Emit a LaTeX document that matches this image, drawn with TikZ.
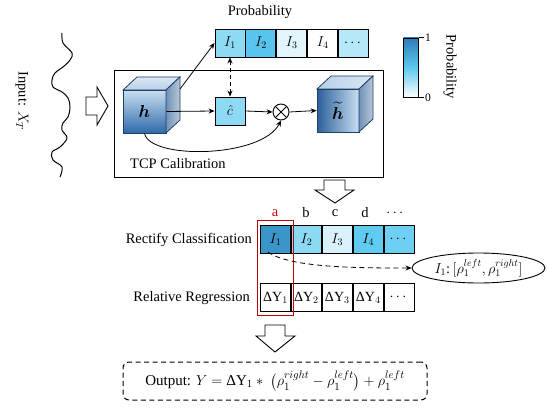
\documentclass[tikz,border=0pt]{standalone}
\usepackage{amsmath}
\usepackage{fontspec}
\setmainfont{Liberation Serif}
\usetikzlibrary{arrows.meta,shapes.geometric,calc}
\definecolor{pA}{HTML}{8EDAF5}
\definecolor{pB}{HTML}{58C5EE}
\definecolor{pC}{HTML}{E2F5FC}
\definecolor{pD}{HTML}{B5E8F9}
\definecolor{rA}{HTML}{3A95C9}
\definecolor{rB}{HTML}{8CD9F4}
\definecolor{rC}{HTML}{D8F1FB}
\definecolor{rD}{HTML}{5FCBF0}
\definecolor{rE}{HTML}{6DD0F3}
\definecolor{cubeD}{HTML}{2F6AAA}
\definecolor{cubeL}{HTML}{C9DEF2}
\definecolor{cubeT}{HTML}{D9E8F6}
\definecolor{cubeS}{HTML}{8BA3BE}
\definecolor{edge}{HTML}{1F3F66}
\definecolor{barD}{HTML}{2E7DB8}
\definecolor{barM}{HTML}{5CC8EF}
\newcommand{\dY}[1]{\text{ΔY}_{#1}}
\tikzset{
  txt/.style={font=\fontsize{14.5}{16}\selectfont, inner sep=1pt},
  cell/.style={draw, line width=0.9pt, minimum width=30pt, minimum height=28pt, inner sep=0pt, font=\fontsize{14}{16}\selectfont},
  arr/.style={-{Stealth[length=6pt,width=5pt]}, line width=0.8pt},
  hollow/.style={draw, line width=0.9pt, fill=white, line join=miter},
}
\begin{document}
\begin{tikzpicture}[x=1pt,y=-1pt]
\useasboundingbox (0,0) rectangle (548,409);

% input wave
\draw[line width=1pt, line join=round] plot[smooth, tension=0.6] coordinates {
 (62,33) (63,43) (72,53) (70,60) (63,67) (55,73) (52,80) (53,87) (62,92) (68,98)
 (70,107) (68,117) (63,123) (62,130) (67,138) (60,147) (52,152) (53,160) (62,167) (60,177)};
\node[txt, rotate=-90] (inp) at (22,101) {Input: $X_T$};

% hollow right arrow
\draw[hollow] (86,97) -- (97,97) -- (97,87) -- (108,106) -- (97,125) -- (97,115) -- (86,115) -- cycle;

% TCP box
\node[draw, line width=0.9pt, minimum width=269pt, minimum height=107pt, inner sep=0pt] (tcp) at (249,123.5) {};
\node[txt, anchor=west] (tcplab) at (129,164) {TCP Calibration};

% h cube
\node[draw=edge, line width=0.8pt, minimum width=43pt, minimum height=43pt, inner sep=0pt,
  top color=cubeL, bottom color=cubeD] (h) at (144.5,111.5) {\fontsize{17}{18}\selectfont$\boldsymbol{h}$};
\shade[draw=edge, line width=0.8pt, top color=cubeT, bottom color=cubeT!80!cubeD] (123,90) -- (137,77) -- (180,77) -- (166,90) -- cycle;
\shade[draw=edge, line width=0.8pt, left color=cubeS!70!cubeD, right color=cubeS!60!white] (166,90) -- (180,77) -- (180,120) -- (166,133) -- cycle;

% h tilde cube
\node[draw=edge, line width=0.8pt, minimum width=42pt, minimum height=43pt, inner sep=0pt,
  left color=cubeD!90!black, right color=cubeL] (ht) at (338,110.5) {\fontsize{17}{18}\selectfont$\widetilde{\boldsymbol{h}}$};
\shade[draw=edge, line width=0.8pt, left color=cubeT!80!cubeD, right color=cubeT] (317,89) -- (331,76) -- (373,76) -- (359,89) -- cycle;
\shade[draw=edge, line width=0.8pt, left color=cubeS!70!cubeD, right color=cubeS!60!white] (359,89) -- (373,76) -- (373,119) -- (359,132) -- cycle;
\coordinate (htop) at (180,89);

% c hat box and otimes
\node[draw, line width=0.9pt, fill=pA, minimum width=30pt, minimum height=28pt, inner sep=0pt, font=\fontsize{14}{16}\selectfont] (c) at (230,111) {$\hat{c}$};
\node[draw, circle, line width=0.9pt, minimum size=16pt, inner sep=0pt] (ot) at (281,112) {};
\draw[line width=0.9pt] ($(ot)+(-5.6,-5.6)$) -- ($(ot)+(5.6,5.6)$) ($(ot)+(-5.6,5.6)$) -- ($(ot)+(5.6,-5.6)$);

% probability bar
\node[cell, fill=pA] (p1) at (230,43) {$I_1$};
\node[cell, fill=pB, anchor=west] (p2) at (p1.east) {$I_2$};
\node[cell, fill=pC, anchor=west] (p3) at (p2.east) {$I_3$};
\node[cell, fill=white, anchor=west] (p4) at (p3.east) {$I_4$};
\node[cell, fill=pD, anchor=west] (p5) at (p4.east) {$\cdots$};
\node[txt] (plab) at (260,12) {Probability};

% arrows in TCP
\draw[arr] (htop) -- (p1.west);
\draw[arr] (h.east) -- (c.west);
\draw[arr] (c.east) -- (ot.west);
\draw[arr] (ot.east) -- (ht.west);
\draw[arr] (h.south) .. controls (150,160) and (262,158) .. (ot.south);
\draw[{Stealth[length=6pt,width=5pt]}-{Stealth[length=6pt,width=5pt]}, line width=0.8pt, dashed, dash pattern=on 4pt off 3pt] (p1.south) -- (c.north);

% colorbar
\node[draw, line width=0.9pt, minimum width=15pt, minimum height=59pt, inner sep=0pt,
  top color=barD, bottom color=white, middle color=barM] (cbar) at (411,67.5) {};
\draw[line width=0.9pt] (cbar.north east) -- ++(5,0) coordinate (t1);
\draw[line width=0.9pt] (cbar.south east) -- ++(5,0) coordinate (t0);
\node[font=\fontsize{11.5}{12}\selectfont, anchor=west, inner sep=1pt] (one) at (t1) {1};
\node[font=\fontsize{11.5}{12}\selectfont, anchor=west, inner sep=1pt] (zero) at (t0) {0};
\node[txt, rotate=-90] (plab2) at (450,67) {Probability};

% down arrow 1
\draw[hollow] (324,180) -- (345,180) -- (345,190) -- (354,190) -- (335,203) -- (315,190) -- (324,190) -- cycle;

% letters
\node[txt, text=red!80!black] (la) at (275,213) {a};
\node[txt] (lb) at (306,213) {b};
\node[txt] (lc) at (335,213) {c};
\node[txt] (ld) at (365,213) {d};
\node[txt] (le) at (396,213) {$\cdots$};

% rectify row
\node[cell, fill=rA] (r1) at (275.5,239.5) {$I_1$};
\node[cell, fill=rB, anchor=west] (r2) at (r1.east) {$I_2$};
\node[cell, fill=rC, anchor=west] (r3) at (r2.east) {$I_3$};
\node[cell, fill=rD, anchor=west] (r4) at (r3.east) {$I_4$};
\node[cell, fill=rE, anchor=west] (r5) at (r4.east) {$\cdots$};
\node[txt, anchor=east] (rlab) at (253,240) {Rectify Classification};

% regression row
\node[cell] (g1) at (275.5,297.5) {$\dY{1}$};
\node[cell, anchor=west] (g2) at (g1.east) {$\dY{2}$};
\node[cell, anchor=west] (g3) at (g2.east) {$\dY{3}$};
\node[cell, anchor=west] (g4) at (g3.east) {$\dY{4}$};
\node[cell, anchor=west] (g5) at (g4.east) {$\cdots$};
\node[txt, anchor=east] (glab) at (251,298) {Relative Regression};

% red rect
\node[draw=red!75!black, line width=1pt, minimum width=36pt, minimum height=95pt, inner sep=0pt] (red) at (275,267.5) {};

% ellipse
\node[draw, ellipse, line width=0.9pt, minimum width=133pt, minimum height=30pt, inner sep=0pt, font=\fontsize{14.5}{16}\selectfont] (ell) at (478.5,268) {$I_1$:\,$[\rho_1^{left},\rho_1^{right}]$};
\draw[arr, dashed, dash pattern=on 5pt off 3.5pt] (268,252) .. controls (290,268) and (360,268) .. (ell.west);

% down arrow 2
\draw[hollow] (265,325) -- (285,325) -- (285,336) -- (295,336) -- (275,352) -- (256,336) -- (265,336) -- cycle;

% output box
\node[draw, line width=1pt, dashed, dash pattern=on 5pt off 3.5pt, rounded corners=6pt, minimum width=304pt, minimum height=38pt, inner sep=0pt, font=\fontsize{15}{17}\selectfont] (out) at (275,381)
 {Output: $Y = \dY{1} * \ \bigl(\rho_1^{right} - \rho_1^{left}\bigr) + \rho_1^{left}$};
\end{tikzpicture}
\end{document}
